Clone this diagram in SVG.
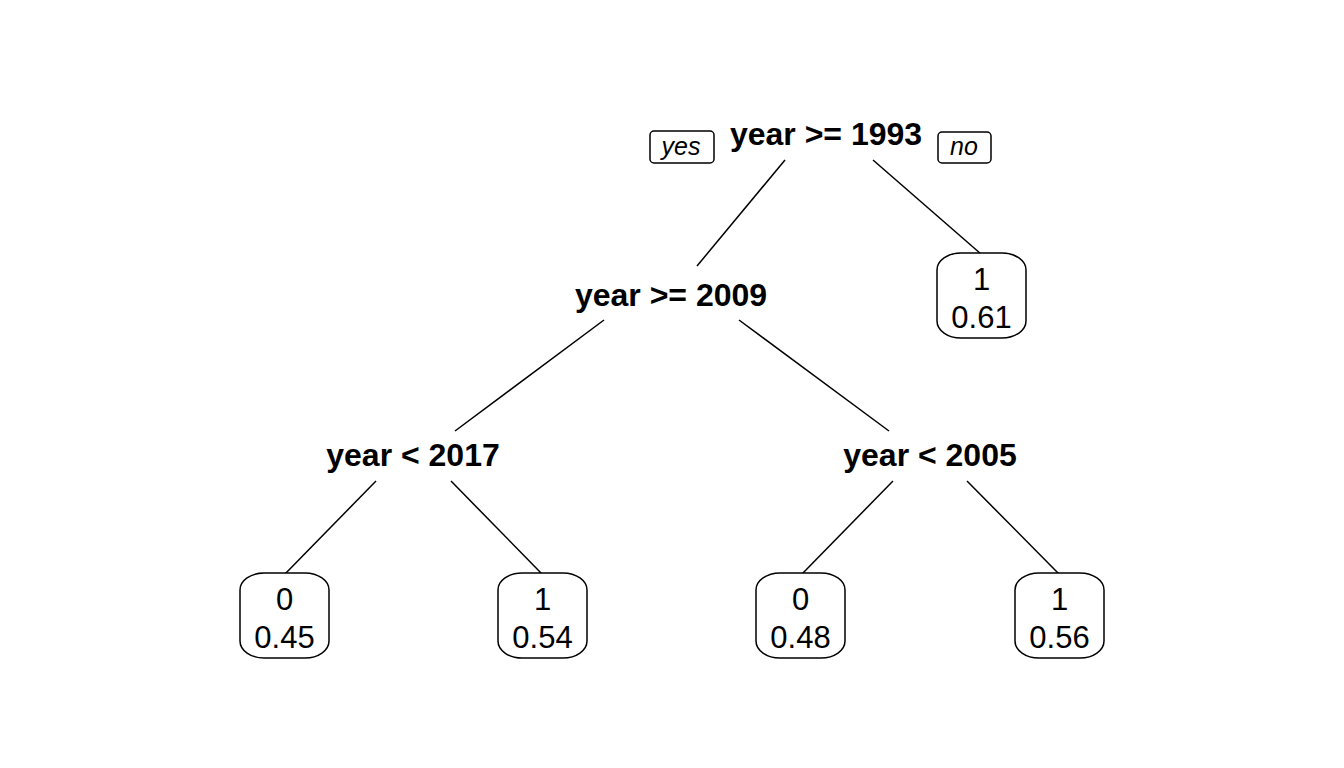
<svg xmlns="http://www.w3.org/2000/svg" width="1344" height="768" viewBox="0 0 1344 768">
<style>
.split{font-family:"Liberation Sans",Arial,sans-serif;font-weight:bold;font-size:32px;text-anchor:middle;fill:#000}
.leaf text{font-family:"Liberation Sans",Arial,sans-serif;font-size:31px;text-anchor:middle;fill:#000}
.leaf rect{fill:#fff;stroke:#000;stroke-width:1.5}
.lab rect{fill:#fff;stroke:#000;stroke-width:1.5}
.lab text{font-family:"Liberation Sans",Arial,sans-serif;font-style:italic;font-size:25px;text-anchor:middle;fill:#000}
#edges line{stroke:#000;stroke-width:1.5}
</style>
<rect width="1344" height="768" fill="#fff"/>
<g id="edges">
<line x1="785" y1="160" x2="697" y2="266"/>
<line x1="873" y1="160" x2="981" y2="254"/>
<line x1="604" y1="320" x2="455" y2="431"/>
<line x1="739" y1="320" x2="889" y2="431"/>
<line x1="376" y1="481" x2="285" y2="574"/>
<line x1="451" y1="481" x2="542" y2="574"/>
<line x1="893" y1="481" x2="802" y2="574"/>
<line x1="967" y1="481" x2="1059" y2="574"/>
</g>
<g id="n1"><text class="split" x="826" y="145">year &gt;= 1993</text></g>
<g id="yes" class="lab"><rect x="650" y="131" width="64" height="32" rx="4"/><text x="681" y="155">yes</text></g>
<g id="no" class="lab"><rect x="938" y="132" width="53" height="31" rx="4"/><text x="964" y="155">no</text></g>
<g id="n2"><text class="split" x="671" y="306">year &gt;= 2009</text></g>
<g id="n3" class="leaf"><rect x="937" y="253" width="89" height="85" rx="24" ry="17"/><text x="981.5" y="290">1</text><text x="981.5" y="328">0.61</text></g>
<g id="n4"><text class="split" x="413" y="466">year &lt; 2017</text></g>
<g id="n5"><text class="split" x="930" y="466">year &lt; 2005</text></g>
<g id="n8" class="leaf"><rect x="240" y="573" width="89" height="85" rx="24" ry="17"/><text x="284.5" y="610">0</text><text x="284.5" y="648">0.45</text></g>
<g id="n9" class="leaf"><rect x="498" y="573" width="89" height="85" rx="24" ry="17"/><text x="542.5" y="610">1</text><text x="542.5" y="648">0.54</text></g>
<g id="n10" class="leaf"><rect x="756" y="573" width="89" height="85" rx="24" ry="17"/><text x="800.5" y="610">0</text><text x="800.5" y="648">0.48</text></g>
<g id="n11" class="leaf"><rect x="1015" y="573" width="89" height="85" rx="24" ry="17"/><text x="1059.5" y="610">1</text><text x="1059.5" y="648">0.56</text></g>
</svg>
